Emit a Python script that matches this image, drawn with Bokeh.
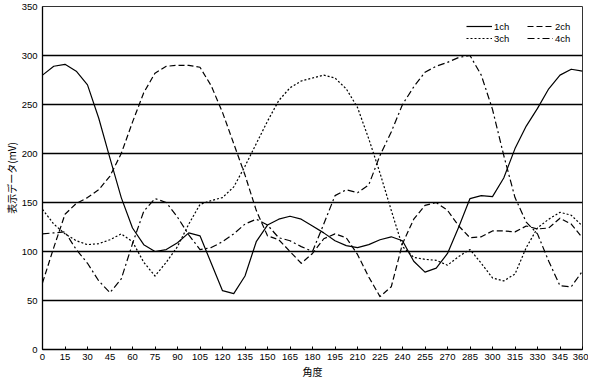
from bokeh.plotting import figure
from bokeh.models import Range1d, FixedTicker, Legend, LegendItem
from bokeh.embed import file_html
from bokeh.resources import INLINE

# angle grid (degrees)
angles = [i * 7.5 for i in range(49)]

ch1 = [280, 289, 291, 284, 270, 236, 195, 155, 124, 107, 100, 102, 109, 119, 116, 88,
       60, 57, 75, 110, 127, 133, 136, 133, 126, 119, 111, 106, 104, 107, 112, 115,
       111, 90, 79, 83, 98, 125, 154, 157, 156, 175, 205, 228, 246, 266, 280, 286, 284]
ch2 = [68, 104, 138, 149, 155, 163, 177, 200, 232, 262, 282, 289, 290, 290, 288, 269,
       242, 210, 178, 142, 116, 112, 100, 88, 98, 113, 118, 114, 97, 74, 54, 64,
       108, 133, 147, 150, 142, 126, 114, 115, 121, 121, 120, 126, 123, 124, 134, 128, 114]
ch3 = [143, 128, 118, 111, 107, 108, 112, 118, 110, 89, 75, 89, 105, 128, 148, 152,
       155, 166, 187, 210, 233, 254, 267, 274, 277, 280, 277, 266, 247, 215, 180, 142,
       105, 94, 92, 91, 86, 95, 102, 88, 73, 70, 77, 104, 124, 133, 140, 137, 126]
ch4 = [118, 119, 120, 102, 88, 70, 58, 72, 108, 141, 154, 150, 135, 117, 102, 104,
       110, 118, 128, 133, 127, 114, 111, 105, 100, 128, 157, 163, 160, 168, 198, 222,
       250, 268, 283, 289, 293, 298, 300, 280, 245, 198, 155, 130, 118, 90, 65, 64, 80]

x_ticks = list(range(0, 361, 15))
y_ticks = list(range(0, 351, 50))

p = figure(width=588, height=381, x_range=Range1d(0, 360), y_range=Range1d(0, 350),
           output_backend="svg", toolbar_location=None,
           min_border_left=30, min_border_right=6, min_border_top=6, min_border_bottom=10)
p.background_fill_color = "white"
p.border_fill_color = "white"
p.outline_line_color = "#333333"
p.outline_line_width = 1

p.xgrid.visible = False
p.ygrid.grid_line_color = "black"
p.ygrid.grid_line_width = 1.3
p.ygrid.ticker = FixedTicker(ticks=y_ticks)

p.xaxis.ticker = FixedTicker(ticks=x_ticks)
p.yaxis.ticker = FixedTicker(ticks=y_ticks)
for ax in (p.xaxis[0], p.yaxis[0]):
    ax.axis_line_color = "black"
    ax.axis_line_width = 1.3
    ax.minor_tick_line_color = None
    ax.major_label_text_font = "Liberation Sans"
    ax.major_label_text_font_size = "9.5px"
    ax.major_label_text_color = "black"
    ax.axis_label_text_font = "Noto Sans CJK JP"
    ax.axis_label_text_font_size = "10px"
    ax.axis_label_text_font_style = "normal"
    ax.axis_label_text_color = "black"

p.xaxis.major_tick_in = 3
p.xaxis.major_tick_out = 0
p.xaxis.major_tick_line_color = "black"
p.xaxis.major_label_standoff = 4
p.xaxis.axis_label = "角度"
p.xaxis.axis_label_standoff = 1

p.yaxis.major_tick_in = 0
p.yaxis.major_tick_out = 0
p.yaxis.major_label_standoff = 5
p.yaxis.axis_label = "表示データ(mV)"
p.yaxis.axis_label_standoff = 0

r1 = p.line(angles, ch1, line_color="black", line_width=1.2, line_join="round")
r2 = p.line(angles, ch2, line_color="black", line_width=1.2, line_dash="6 3", line_join="round")
r3 = p.line(angles, ch3, line_color="black", line_width=1.2, line_dash="2 2", line_join="round")
r4 = p.line(angles, ch4, line_color="black", line_width=1.2, line_dash="7 3 2 3", line_join="round")

legend = Legend(items=[LegendItem(label="1ch", renderers=[r1]),
                       LegendItem(label="3ch", renderers=[r3]),
                       LegendItem(label="2ch", renderers=[r2]),
                       LegendItem(label="4ch", renderers=[r4])],
                ncols=2, location=(424, 305))
legend.border_line_color = None
legend.background_fill_alpha = 0
legend.label_text_font = "Liberation Sans"
legend.label_text_font_size = "9.5px"
legend.label_text_color = "black"
legend.glyph_width = 26
legend.glyph_height = 12
legend.label_height = 12
legend.label_width = 33
legend.label_standoff = 2
legend.spacing = 0
legend.padding = 1
legend.margin = 0
p.add_layout(legend)

open("out.html", "w").write(file_html(p, INLINE))
